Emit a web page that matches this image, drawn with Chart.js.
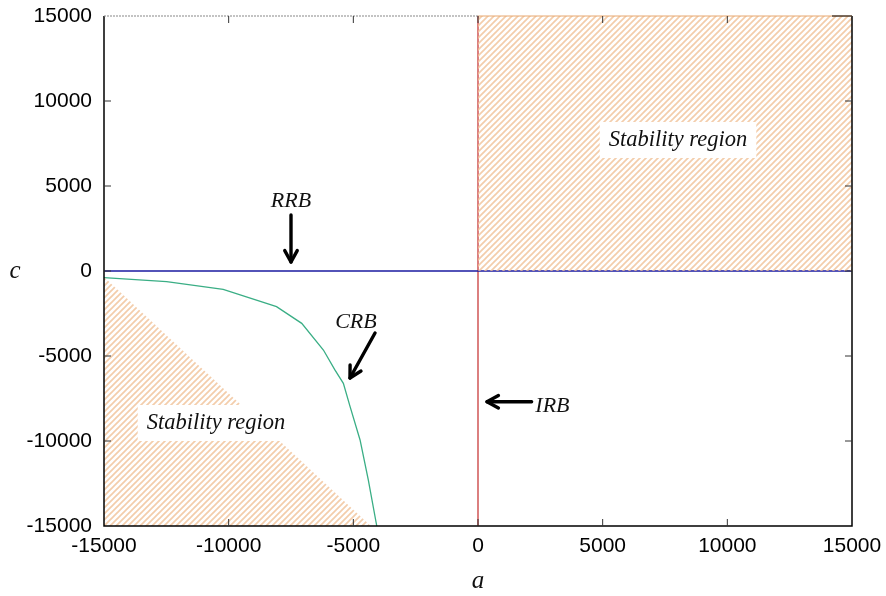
<!DOCTYPE html>
<html>
<head>
<meta charset="utf-8">
<script src="https://cdn.jsdelivr.net/npm/chart.js@4.4.1/dist/chart.umd.min.js"></script>
<style>
html,body{margin:0;padding:0;background:#fff;}
#wrap{width:886px;height:596px;}
</style>
</head>
<body>
<div id="wrap"><canvas id="c" width="886" height="596"></canvas></div>
<script>
// ---- data ----
const axisTicks = [-15000, -10000, -5000, 0, 5000, 10000, 15000];
const crbA = [-15000, -12490, -10220, -8080, -7070, -6200, -5740, -5400, -5130, -4730, -4400, -4060];
const crbC = [-390, -630, -1080, -2100, -3080, -4650, -5820, -6610, -7980, -9940, -12290, -15000];
const rrbA = [-15000, 15000];
const rrbC = [0, 0];
const irbA = [0, 0];
const irbC = [-15000, 15000];
const upperRegionA = [0, 15000];
const upperRegionC = [15000, 15000];
const lowerRegionA = [-15000, -4300];
const lowerRegionC = [-350, -15000];
const regionLabels = ['Stability region', 'Stability region'];
const boundaryLabels = ['RRB', 'CRB', 'IRB'];

function pts(xs, ys){ return xs.map((x,i)=>({x:x, y:ys[i]})); }

function hatch(){
  const s = 6;
  const cv = document.createElement('canvas');
  cv.width = s; cv.height = s;
  const g = cv.getContext('2d');
  g.strokeStyle = 'rgba(240,192,150,0.8)';
  g.lineWidth = 1.7;
  g.beginPath();
  g.moveTo(-1, s+1); g.lineTo(s+1, -1);
  g.moveTo(-1, 1); g.lineTo(1, -1);
  g.moveTo(s-1, s+1); g.lineTo(s+1, s-1);
  g.stroke();
  return g.createPattern(cv, 'repeat');
}
const hatchPattern = hatch();

const serifItalic = (sz)=> 'italic ' + sz + 'px "Liberation Serif", "DejaVu Serif", serif';

const overlay = {
  id: 'overlay',
  afterDatasetsDraw(chart){
    const ctx = chart.ctx, xs = chart.scales.x, ys = chart.scales.y;
    const ca = chart.chartArea;
    const X = v => xs.getPixelForValue(v), Y = v => ys.getPixelForValue(v);
    ctx.save();
    // frame
    ctx.strokeStyle = '#000'; ctx.lineWidth = 1.5;
    ctx.beginPath();
    ctx.moveTo(ca.left, ca.top); ctx.lineTo(ca.left, ca.bottom); ctx.lineTo(ca.right, ca.bottom); ctx.lineTo(ca.right, ca.top);
    ctx.stroke();
    ctx.strokeStyle = '#888'; ctx.lineWidth = 1.2; ctx.setLineDash([2,1]);
    ctx.beginPath(); ctx.moveTo(ca.left, ca.top); ctx.lineTo(X(0), ca.top); ctx.stroke();
    ctx.setLineDash([]);
    ctx.strokeStyle = '#e8a870'; ctx.lineWidth = 1.2;
    ctx.beginPath(); ctx.moveTo(X(0), ca.top); ctx.lineTo(ca.right, ca.top); ctx.stroke();
    ctx.strokeStyle = '#000'; ctx.lineWidth = 1;
    ctx.beginPath(); ctx.moveTo(ca.right-20, ca.top); ctx.lineTo(ca.right, ca.top); ctx.stroke();
    // inward ticks
    ctx.strokeStyle = '#333'; ctx.lineWidth = 1;
    const tl = 7;
    ctx.beginPath();
    axisTicks.slice(1, -1).forEach(v=>{
      const px = X(v), py = Y(v);
      ctx.moveTo(px, ca.bottom); ctx.lineTo(px, ca.bottom - tl);
      ctx.moveTo(px, ca.top); ctx.lineTo(px, ca.top + tl);
      ctx.moveTo(ca.left, py); ctx.lineTo(ca.left + tl, py);
      ctx.moveTo(ca.right, py); ctx.lineTo(ca.right - tl, py);
    });
    ctx.stroke();

    // region labels with white box
    function boxText(txt, a, c, size){
      ctx.font = serifItalic(size);
      const w = ctx.measureText(txt).width;
      const px = X(a), py = Y(c);
      ctx.fillStyle = '#fff';
      ctx.fillRect(px - w/2 - 9, py - size*0.8, w + 18, size*1.6);
      ctx.fillStyle = '#111';
      ctx.textAlign = 'center'; ctx.textBaseline = 'middle';
      ctx.fillText(txt, px, py);
    }
    boxText(regionLabels[0], 8022, 7706, 22.5);
    boxText(regionLabels[1], -10509, -8941, 22.5);

    function label(txt, a, c, align){
      ctx.font = serifItalic(22);
      ctx.fillStyle = '#111';
      ctx.textAlign = align || 'center'; ctx.textBaseline = 'middle';
      ctx.fillText(txt, X(a), Y(c));
    }
    function arrow(a1, c1, a2, c2){
      const x1 = X(a1), y1 = Y(c1), x2 = X(a2), y2 = Y(c2);
      const ang = Math.atan2(y2 - y1, x2 - x1);
      ctx.strokeStyle = '#000'; ctx.lineWidth = 3.4; ctx.lineCap = 'round'; ctx.lineJoin = 'round';
      ctx.beginPath(); ctx.moveTo(x1, y1); ctx.lineTo(x2, y2); ctx.stroke();
      const hl = 13, ha = 0.5;
      ctx.beginPath();
      ctx.moveTo(x2 - hl*Math.cos(ang - ha), y2 - hl*Math.sin(ang - ha));
      ctx.lineTo(x2, y2);
      ctx.lineTo(x2 - hl*Math.cos(ang + ha), y2 - hl*Math.sin(ang + ha));
      ctx.stroke();
    }
    label(boundaryLabels[0], -7500, 4118);
    arrow(-7500, 3294, -7500, 529);
    label(boundaryLabels[1], -4894, -3000);
    arrow(-4130, -3647, -5134, -6294);
    label(boundaryLabels[2], 2300, -7950, 'left');
    arrow(2150, -7688, 361, -7688);

    // y axis title (unrotated)
    ctx.font = serifItalic(25);
    ctx.fillStyle = '#111';
    ctx.textAlign = 'center'; ctx.textBaseline = 'middle';
    ctx.fillText('c', 15, Y(0));
    ctx.restore();
  }
};

new Chart(document.getElementById('c'), {
  type: 'scatter',
  data: {
    datasets: [
      { data: pts(upperRegionA, upperRegionC), showLine: true, fill: 'origin', backgroundColor: hatchPattern, borderColor: 'rgba(232,168,112,0.9)', borderWidth: 0, pointRadius: 0 },
      { data: pts(lowerRegionA, lowerRegionC), showLine: true, fill: 'start', backgroundColor: hatchPattern, borderWidth: 0, borderColor: 'rgba(0,0,0,0)', pointRadius: 0 },
      { data: pts(rrbA, rrbC), showLine: true, borderColor: '#1a1aa0', borderWidth: 1.3, pointRadius: 0, fill: false },
      { data: pts(irbA, irbC), showLine: true, borderColor: '#c42a2a', borderWidth: 1.2, pointRadius: 0, fill: false },
      { data: pts(crbA, crbC), showLine: true, borderColor: '#3aae85', borderWidth: 1.3, pointRadius: 0, fill: false, tension: 0 }
    ]
  },
  options: {
    responsive: false,
    animation: false,
    devicePixelRatio: 1,
    layout: { padding: { top: 16, right: 34, left: 0, bottom: 0 } },
    plugins: { legend: { display: false }, tooltip: { enabled: false } },
    scales: {
      x: {
        type: 'linear', min: -15000, max: 15000,
        afterBuildTicks: s => { s.ticks = axisTicks.map(v=>({value:v})); },
        afterFit: s => { s.height = 70; s.paddingLeft = 0; s.paddingRight = 0; },
        grid: { display: false, drawTicks: false },
        border: { display: false },
        ticks: { color: '#000', padding: 10, maxRotation: 0, callback: v => String(v), font: { family: '"Liberation Sans", Arial, sans-serif', size: 21, lineHeight: 1 } },
        title: { display: true, text: 'a', color: '#111', padding: { top: 2, bottom: 0 }, font: { family: '"Liberation Serif", serif', style: 'italic', size: 25 } }
      },
      y: {
        type: 'linear', min: -15000, max: 15000,
        afterBuildTicks: s => { s.ticks = axisTicks.map(v=>({value:v})); },
        afterFit: s => { s.width = 104; s.paddingTop = 0; s.paddingBottom = 0; },
        grid: { display: false, drawTicks: false },
        border: { display: false },
        ticks: { color: '#000', padding: 12, callback: v => String(v), font: { family: '"Liberation Sans", Arial, sans-serif', size: 21, lineHeight: 1 } }
      }
    }
  },
  plugins: [overlay]
});
</script>
</body>
</html>
